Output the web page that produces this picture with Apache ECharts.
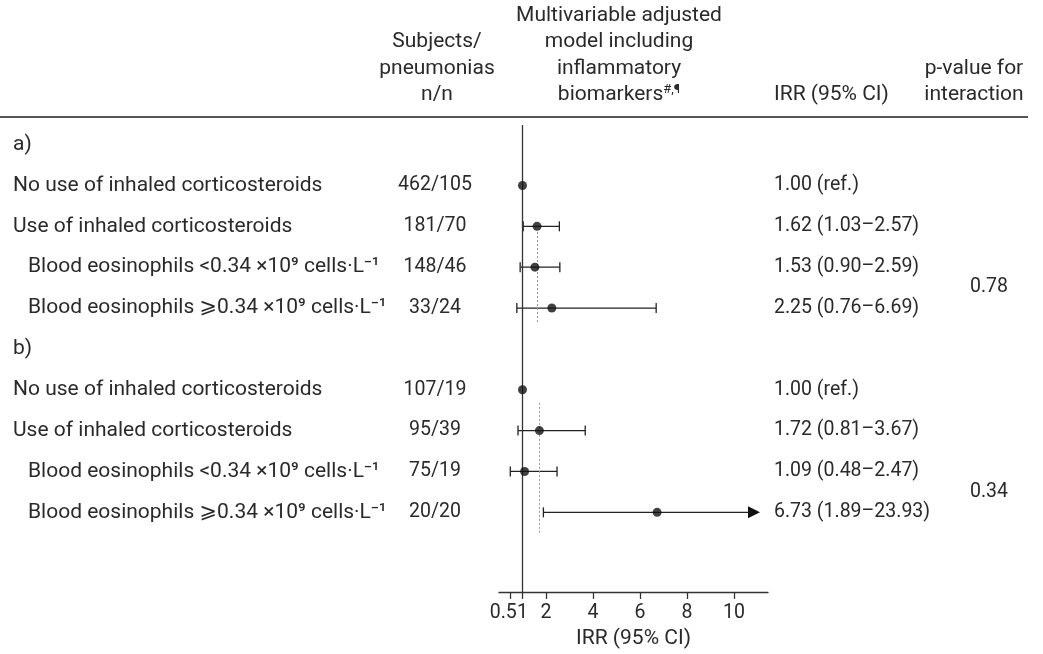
<!DOCTYPE html>
<html><head><meta charset="utf-8">
<script src="https://cdn.jsdelivr.net/npm/echarts@6/dist/echarts.min.js"></script>
<style>html,body{margin:0;padding:0;background:#fff}#c{width:1043px;height:654px}</style>
</head><body><div id="c"></div>
<script>
// ---- data ----
const rowLabels = [
  'a)',
  'No use of inhaled corticosteroids',
  'Use of inhaled corticosteroids',
  'Blood eosinophils <0.34 ×10⁹ cells·L⁻¹',
  'Blood eosinophils ⩾0.34 ×10⁹ cells·L⁻¹',
  'b)',
  'No use of inhaled corticosteroids',
  'Use of inhaled corticosteroids',
  'Blood eosinophils <0.34 ×10⁹ cells·L⁻¹',
  'Blood eosinophils ⩾0.34 ×10⁹ cells·L⁻¹'
];
const rowKind = ['section','main','main','sub','sub','section','main','main','sub','sub'];
const subjects = ['', '462/105', '181/70', '148/46', '33/24', '', '107/19', '95/39', '75/19', '20/20'];
const irr    = [null, 1.00, 1.62, 1.53, 2.25, null, 1.00, 1.72, 1.09, 6.73];
const ciLow  = [null, null, 1.03, 0.90, 0.76, null, null, 0.81, 0.48, 1.89];
const ciHigh = [null, null, 2.57, 2.59, 6.69, null, null, 3.67, 2.47, 23.93];
const isRef  = [false, true, false, false, false, false, true, false, false, false];
const pInteraction = ['0.78', '0.34'];
const pRows = [[3, 4], [8, 9]];
const pooledValue = [1.62, 1.72];
const pooledSpan = [[2.14, 4.37], [6.32, 9.5]];
const xTicks = [0.5, 1, 2, 4, 6, 8, 10];
const xTickLabels = ['0.5', '1', '2', '4', '6', '8', '10'];
const xMax = 11.45;

// ---- style ----
const FONT = 'Roboto, "DejaVu Sans", sans-serif';
const TXT = '#2a2a2a';
const FS = 21;      // word text
const FN = 19.5;    // numeric text

const chart = echarts.init(document.getElementById('c'), null, {renderer: 'canvas'});

function fmt(v){ return v.toFixed(2); }
const irrText = irr.map((v, i) => v == null ? '' : (isRef[i] ? fmt(v) + ' (ref.)' : fmt(v) + ' (' + fmt(ciLow[i]) + '–' + fmt(ciHigh[i]) + ')'));

const ciData = [];
irr.forEach((v, i) => { if (ciLow[i] != null) ciData.push([ciLow[i], i, ciHigh[i]]); });
const pointData = [];
irr.forEach((v, i) => { if (v != null) pointData.push([v, i]); });

function txt(x, y, text, align, size) {
  return {
    type: 'text', x: x, y: y,
    style: { text: text, fill: TXT, font: (size || FS) + 'px ' + FONT, align: align || 'left', verticalAlign: 'middle' }
  };
}

const option = {
  animation: false,
  backgroundColor: '#fff',
  grid: { left: 499, right: 275, top: 125, bottom: 62 },
  xAxis: {
    type: 'value', min: 0, max: xMax,
    axisLine: { onZero: false, lineStyle: { color: '#333', width: 1.3 } },
    axisTick: { customValues: xTicks, length: 7, lineStyle: { color: '#333', width: 1.3 } },
    axisLabel: {
      customValues: xTicks, hideOverlap: false, showMinLabel: true, showMaxLabel: true,
      color: TXT, fontSize: FN, fontFamily: FONT, margin: 11,
      formatter: v => {
        const k = xTicks.indexOf(v);
        const s = k >= 0 ? xTickLabels[k] : String(v);
        return v === 0.5 ? '{l|' + s + '}' : s;
      },
      rich: { l: { fontSize: FN, fontFamily: FONT, color: TXT, width: 12, align: 'right' } }
    },
    splitLine: { show: false },
    name: 'IRR (95% CI)', nameLocation: 'middle', nameGap: 35,
    nameTextStyle: { color: TXT, fontSize: FS, fontFamily: FONT }
  },
  yAxis: {
    type: 'value', min: -0.48, max: 10.95, inverse: true, show: false
  },
  graphic: [
    { type: 'line', shape: { x1: 0, y1: 117, x2: 1028, y2: 117 }, style: { stroke: '#555', lineWidth: 2 } },
    txt(619, 15.5, 'Multivariable adjusted', 'center'),
    txt(619, 42, 'model including', 'center'),
    txt(619, 68.5, 'inflammatory', 'center'),
    { type: 'text', x: 619, y: 95, style: {
        text: '{a|biomarkers}{s|#,¶}', align: 'center', verticalAlign: 'middle',
        rich: { a: { fontSize: FS, fontFamily: FONT, fill: TXT, lineHeight: 24 },
                s: { fontSize: 13, fontFamily: FONT, fill: TXT, verticalAlign: 'top', lineHeight: 24 } } } },
    txt(437, 42, 'Subjects/', 'center'),
    txt(437, 68.5, 'pneumonias', 'center'),
    txt(437, 95, 'n/n', 'center'),
    txt(774, 95, 'IRR (95% CI)', 'left'),
    txt(974, 68.5, 'p-value for', 'center'),
    txt(974, 95, 'interaction', 'center')
  ],
  series: [
    {
      name: 'text columns', type: 'custom', clip: false, silent: true,
      data: rowLabels.map((_, i) => [0, i]),
      encode: { x: 0, y: 1 },
      renderItem: function (params, api) {
        const i = params.dataIndex;
        const y = api.coord([0, i])[1];
        const ch = [];
        ch.push(txt(rowKind[i] === 'sub' ? 28 : 13, y, rowLabels[i], 'left', FS));
        if (subjects[i]) ch.push(txt(435, y, subjects[i], 'center', FN));
        if (irrText[i]) ch.push(txt(774, y, irrText[i], 'left', FN));
        pRows.forEach((pr, k) => {
          if (pr[0] === i) {
            const ym = (api.coord([0, pr[0]])[1] + api.coord([0, pr[1]])[1]) / 2;
            ch.push(txt(989, ym, pInteraction[k], 'center', FN));
          }
        });
        return { type: 'group', children: ch };
      },
      z: 5
    },
    {
      name: 'CI', type: 'custom', clip: false, silent: true,
      data: ciData,
      encode: { x: [0, 2], y: 1 },
      renderItem: function (params, api) {
        const lo = api.value(0), row = api.value(1), hi = api.value(2);
        const p0 = api.coord([lo, row]);
        const y = p0[1];
        const stroke = { stroke: '#222', lineWidth: 1.3 };
        const ch = [];
        if (hi > xMax) {
          const tip = api.coord([xMax, row])[0] - 8;
          ch.push({ type: 'line', shape: { x1: p0[0], y1: y, x2: tip - 10, y2: y }, style: stroke });
          ch.push({ type: 'polygon', shape: { points: [[tip, y], [tip - 12, y - 6], [tip - 12, y + 6]] }, style: { fill: '#111' } });
          ch.push({ type: 'line', shape: { x1: p0[0], y1: y - 5, x2: p0[0], y2: y + 5 }, style: stroke });
        } else {
          const p1 = api.coord([hi, row]);
          ch.push({ type: 'line', shape: { x1: p0[0], y1: y, x2: p1[0], y2: y }, style: stroke });
          ch.push({ type: 'line', shape: { x1: p0[0], y1: y - 5, x2: p0[0], y2: y + 5 }, style: stroke });
          ch.push({ type: 'line', shape: { x1: p1[0], y1: y - 5, x2: p1[0], y2: y + 5 }, style: stroke });
        }
        return { type: 'group', children: ch };
      },
      z: 3
    },
    {
      name: 'IRR', type: 'scatter', data: pointData,
      symbol: 'circle', symbolSize: 9,
      itemStyle: { color: '#111' },
      z: 6,
      markLine: {
        silent: true, symbol: 'none', label: { show: false },
        data: [
          { xAxis: 1, lineStyle: { color: '#333', width: 1.3, type: 'solid' } },
          [ { coord: [pooledValue[0], pooledSpan[0][0]] }, { coord: [pooledValue[0], pooledSpan[0][1]] } ],
          [ { coord: [pooledValue[1], pooledSpan[1][0]] }, { coord: [pooledValue[1], pooledSpan[1][1]] } ]
        ],
        lineStyle: { color: '#999', width: 1, type: [2, 2] }
      }
    }
  ]
};
chart.setOption(option);
</script></body></html>
